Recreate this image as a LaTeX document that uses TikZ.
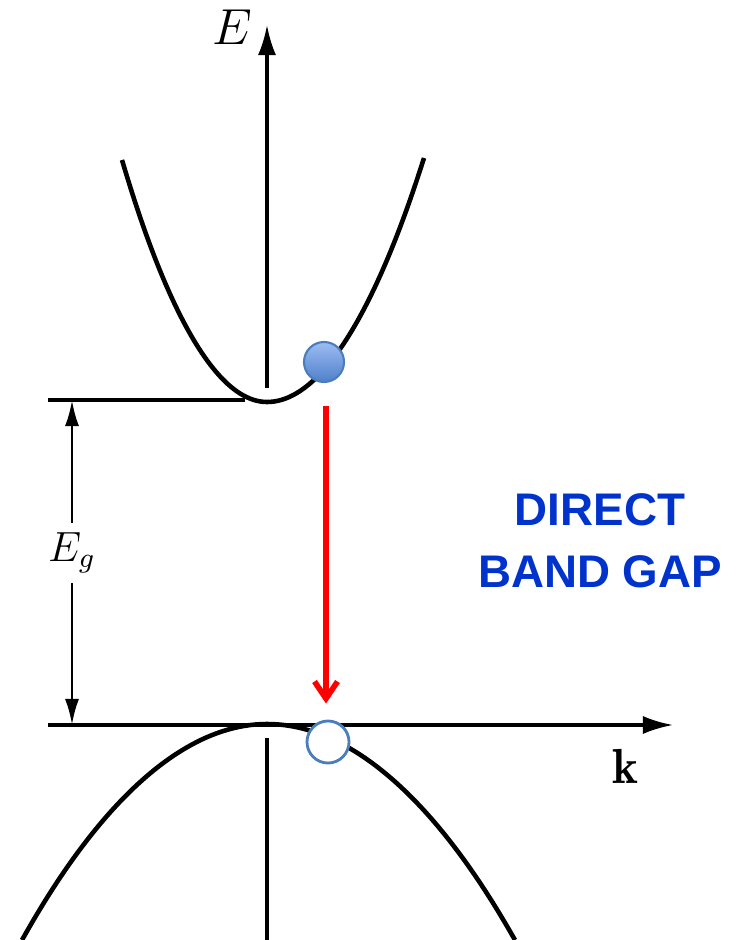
\documentclass[tikz,border=0pt]{standalone}
\usepackage{fontspec}
\newfontfamily\gapfont{Liberation Sans}
\usetikzlibrary{arrows.meta,positioning}
\definecolor{gapblue}{HTML}{0033CC}
\definecolor{dotedge}{HTML}{4A7EBB}
\definecolor{dottop}{HTML}{9DBDF2}
\definecolor{dotbottom}{HTML}{4F7FCB}

\begin{document}
\begin{tikzpicture}[
    x=0.01cm, y=-0.01cm,
    axis/.style={line width=0.9pt},
    axisarrow/.style={axis, -{Latex[length=3mm,width=1.8mm]}},
    band/.style={line width=1.3pt},
    gapdim/.style={line width=0.8pt, -{Latex[length=2.6mm,width=1.4mm]}},
    electron/.style={
        circle,
        draw=dotedge,
        line width=0.6pt,
        top color=dottop,
        bottom color=dotbottom,
        minimum size=0.4cm,
        inner sep=0pt
    },
    hole/.style={
        circle,
        draw=dotedge,
        line width=0.8pt,
        fill=white,
        minimum size=0.42cm,
        inner sep=0pt
    },
    transition/.style={-{Straight Barb[length=1.7mm,width=2.3mm]}, red, line width=1.6pt},
    gaplabel/.style={
        align=center,
        text=gapblue,
        font=\gapfont\bfseries\fontsize{13}{17.5}\selectfont
    }
]
    \useasboundingbox (0,0) rectangle (738,940);

    % axes
    \coordinate (etop) at (267,25);
    \coordinate (egaptop) at (267,388);
    \coordinate (egapbot) at (267,738);
    \coordinate (ebot) at (267,940);
    \coordinate (cleft) at (48,400);
    \coordinate (cright) at (245,400);
    \coordinate (kleft) at (48,725);
    \coordinate (kright) at (673,725);
    \draw[axisarrow] (egaptop) -- (etop);
    \draw[axis] (egapbot) -- (ebot);
    \draw[axis] (cleft) -- (cright);
    \draw[axisarrow] (kleft) -- (kright);

    \node[font=\fontsize{14}{16}\selectfont] (elabel) at (232,27) {$E$};
    \node[font=\fontsize{14}{16}\selectfont] (klabel) at (625,766) {$\mathbf{k}$};

    % gap
    \node[font=\fontsize{12}{14}\selectfont, inner sep=2.6pt] (eg) at (72,553) {$E_g$};
    \coordinate (egtop) at (72,400);
    \coordinate (egbot) at (72,725);
    \draw[gapdim] (eg.north) -- (egtop);
    \draw[gapdim] (eg.south) -- (egbot);

    % bands
    \draw[band] (122,160) parabola bend (267,402) (424,158);
    \draw[band] (22,940) parabola bend (267,724) (515,940);

    \node[electron] (electron) at (324,362) {};
    \node[hole] (hole) at (328,742) {};
    \draw[transition, shorten >=0.16cm] ([shift={(2,23)}]electron.south) -- ([xshift=0.02cm]electron.south |- hole.north);

    \node[gaplabel] (gaptext) at (600,541) {DIRECT\\BAND GAP};
\end{tikzpicture}
\end{document}
